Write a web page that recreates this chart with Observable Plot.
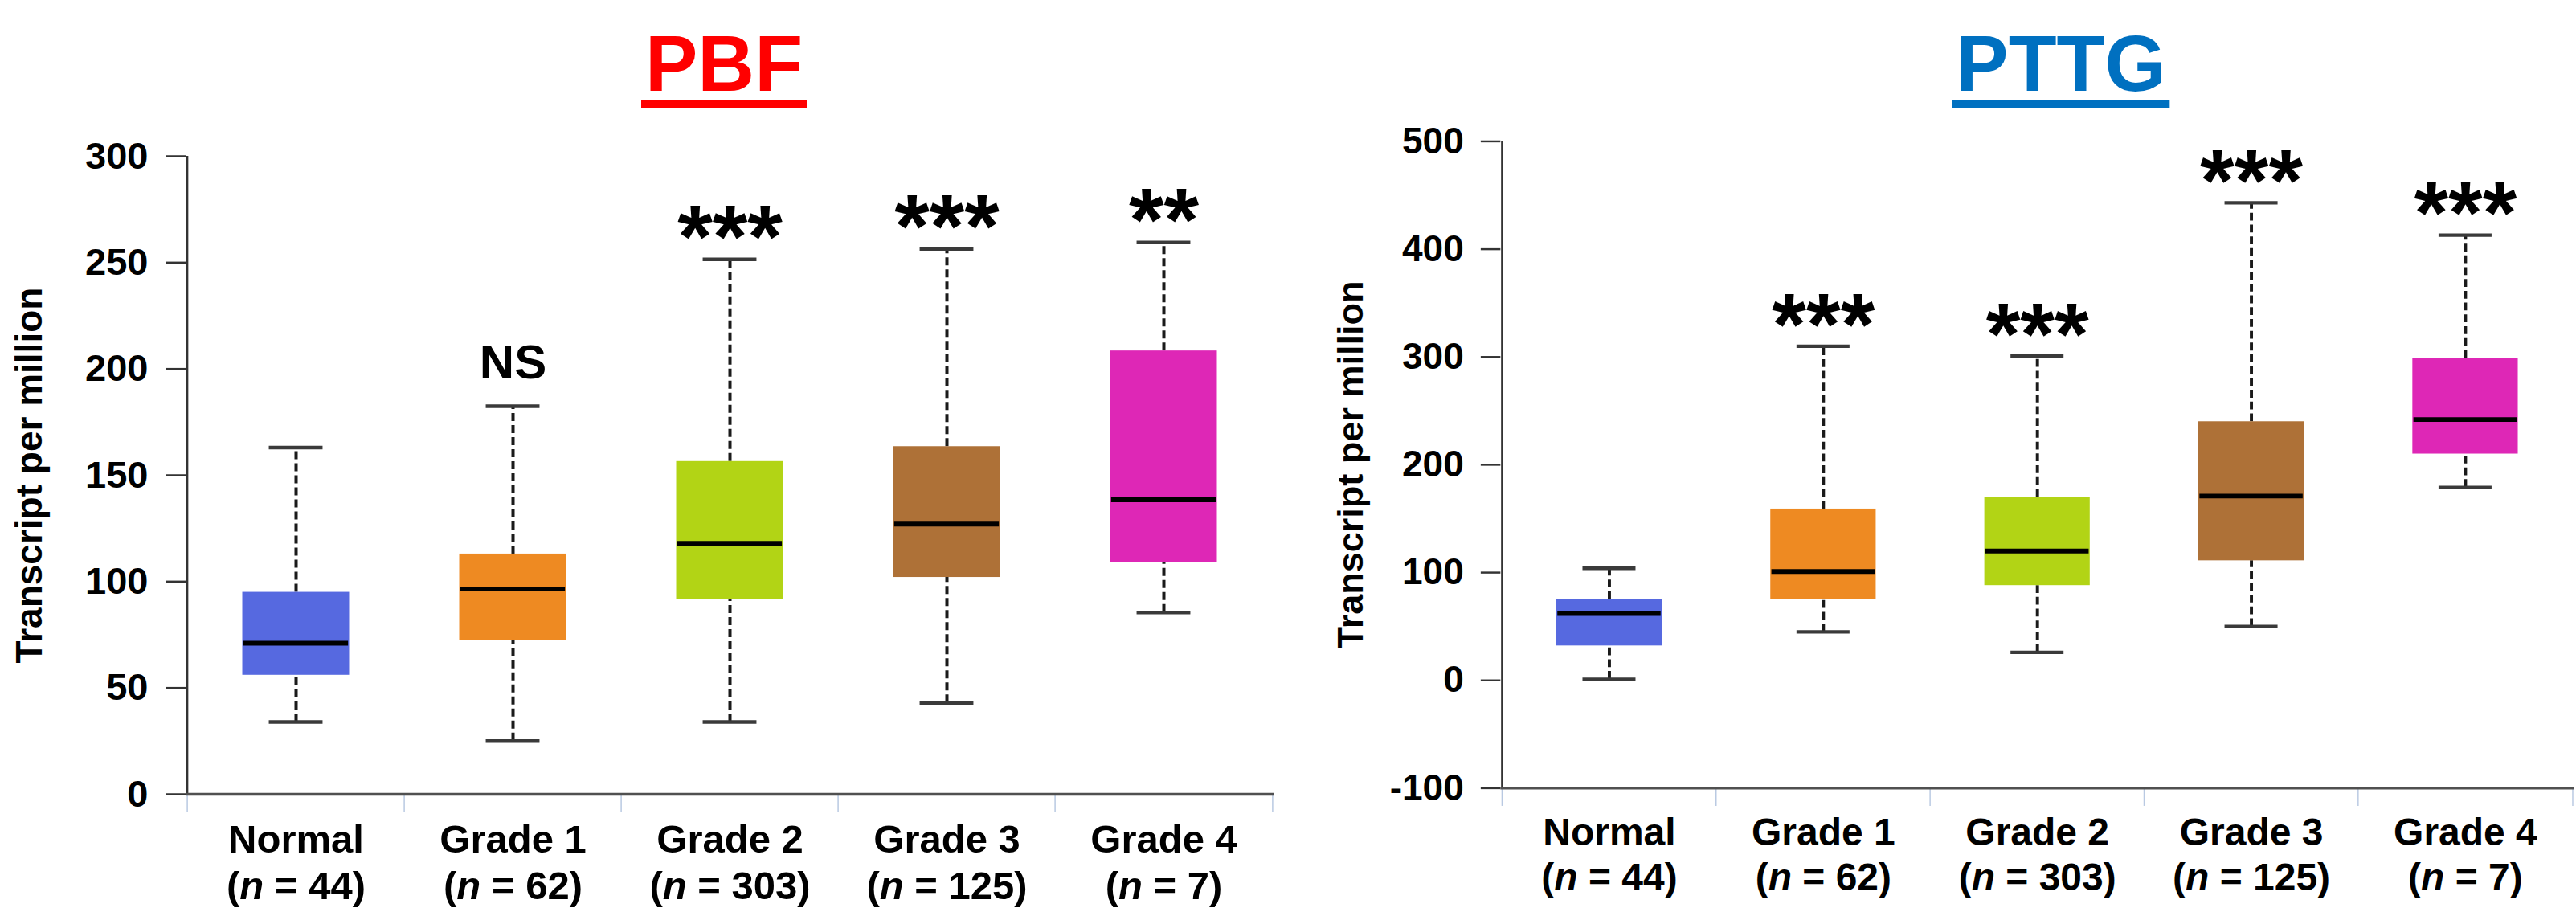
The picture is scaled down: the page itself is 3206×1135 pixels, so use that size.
<!DOCTYPE html>
<html>
<head>
<meta charset="utf-8">
<script src="https://cdn.jsdelivr.net/npm/d3@7"></script>
<script src="https://cdn.jsdelivr.net/npm/@observablehq/plot@0.6"></script>
<style>
  html, body { margin: 0; padding: 0; background: white; }
  body { width: 3206px; height: 1135px; overflow: hidden; position: relative;
         font-family: "Liberation Sans", Arial, Helvetica, sans-serif; }
  .title { position: absolute; top: 34px; transform: translateX(-50%);
           font-size: 98px; font-weight: bold; line-height: 90px; padding: 0 5px; white-space: nowrap; }
  .panel { position: absolute; top: 150px; }
</style>
</head>
<body>
<div class="title" id="t1" style="left:901px;color:#FF0000;border-bottom:11px solid #FF0000;">PBF</div>
<div class="title" id="t2" style="left:2565px;color:#0070C0;border-bottom:11px solid #0070C0;">PTTG</div>
<div class="panel" id="p1" style="left:0px;"></div>
<div class="panel" id="p2" style="left:1600px;"></div>
<script>
// ---- data ----
const categories = ["Normal", "Grade 1", "Grade 2", "Grade 3", "Grade 4"];
const sampleSizes = [44, 62, 303, 125, 7];
const boxColors = ["#5669E0", "#EE8A22", "#B2D415", "#AE7137", "#DE27B6"];

const pbfLow    = [34, 25, 34, 43, 85.5];
const pbfQ1     = [56, 72.5, 91.5, 102, 109];
const pbfMedian = [71, 96.5, 118, 127, 138.5];
const pbfQ3     = [95, 113, 156.5, 163.5, 208.5];
const pbfHigh   = [163, 182.5, 251.5, 256.5, 259.5];
const pbfSig    = ["", "NS", "***", "***", "**"];
const pbfTicks  = [0, 50, 100, 150, 200, 250, 300];

const pttgLow    = [1, 45, 26, 50, 179];
const pttgQ1     = [32, 75, 88, 111, 210];
const pttgMedian = [62, 101, 120, 171, 242];
const pttgQ3     = [75, 159, 170, 240, 299];
const pttgHigh   = [104, 310, 301, 443, 413];
const pttgSig    = ["", "***", "***", "***", "***"];
const pttgTicks  = [-100, 0, 100, 200, 300, 400, 500];

const yLabel = "Transcript per million";
const FONT = "'Liberation Sans', Arial, Helvetica, sans-serif";

function panel(opts) {
  const {low, q1, median, q3, high, sig, ticks, width, height, mt, mb, ml, mr, labelDx} = opts;
  const rows = categories.map((c, i) => ({
    cat: c, lo: low[i], q1: q1[i], med: median[i], q3: q3[i], hi: high[i], sig: sig[i], n: sampleSizes[i]
  }));
  const domain = [ticks[0], ticks[ticks.length - 1]];
  const plotW = width - ml - mr;
  const plotH = height - mt - mb;
  const bw = plotW / categories.length;
  const boxInset = bw * 0.253;
  const capInset = bw * 0.375;
  const medInset = bw * 0.258;
  const whisker = {stroke: "#1a1a1a", strokeWidth: 4, strokeDasharray: "10,5"};
  const cap = {stroke: "#3a3a3a", strokeWidth: 4.5, inset: capInset};
  const boundary = {stroke: "#b9c9e2", strokeWidth: 1.5, insetTop: plotH, insetBottom: -23};
  const svg = Plot.plot({
    width, height, marginTop: mt, marginBottom: mb, marginLeft: ml, marginRight: mr,
    style: {fontFamily: FONT, background: "white", color: "black", overflow: "visible"},
    x: {domain: categories, padding: 0, label: null},
    y: {domain, ticks, label: null},
    color: {domain: categories, range: boxColors},
    marks: [
      Plot.ruleX(rows, {x: "cat", y1: "lo", y2: "q1", ...whisker}),
      Plot.ruleX(rows, {x: "cat", y1: "q3", y2: "hi", ...whisker}),
      Plot.tickY(rows, {x: "cat", y: "lo", ...cap}),
      Plot.tickY(rows, {x: "cat", y: "hi", ...cap}),
      Plot.barY(rows, {x: "cat", y1: "q1", y2: "q3", fill: "cat", insetLeft: boxInset, insetRight: boxInset}),
      Plot.tickY(rows, {x: "cat", y: "med", stroke: "#000", strokeWidth: 6, inset: medInset}),
      Plot.text(rows.filter(d => d.sig.startsWith("*")), {
        x: "cat", y: "hi", text: "sig", fontSize: 112, fontWeight: "bold",
        lineAnchor: "bottom", dy: 10, fill: "black"
      }),
      Plot.text(rows.filter(d => d.sig === "NS"), {
        x: "cat", y: "hi", text: "sig", fontSize: 60, fontWeight: "bold",
        lineAnchor: "bottom", dy: -34, fill: "black"
      }),
      // category boundary ticks below the x axis
      Plot.ruleX(categories, {x: d => d, dx: -bw / 2, ...boundary}),
      Plot.ruleX([categories[categories.length - 1]], {x: d => d, dx: bw / 2, ...boundary}),
      // axis lines
      Plot.ruleX([categories[0]], {x: d => d, dx: -bw / 2, stroke: "#333", strokeWidth: 2.5}),
      Plot.ruleY([domain[0]], {stroke: "#505050", strokeWidth: 3.5}),
      Plot.axisY({
        ticks, tickSize: 25, tickPadding: 22, fontSize: 47, fontWeight: "bold",
        stroke: "#333", strokeWidth: 2.5, tickFormat: d => String(d), label: null
      }),
      Plot.axisX({
        tickSize: 0, tickPadding: 32, fontSize: 49, fontWeight: "bold", lineHeight: 1.17,
        tickFormat: d => d + "\n(n = " + sampleSizes[categories.indexOf(d)] + ")", label: null
      }),
      Plot.text([yLabel], {
        text: d => d, frameAnchor: "left", rotate: -90, dx: labelDx,
        lineAnchor: "bottom", textAnchor: "middle", fontSize: 46, fontWeight: "bold", fill: "black"
      })
    ]
  });
  // italic "n" in the sample-size line
  svg.querySelectorAll("tspan, text").forEach(el => {
    if (el.childNodes.length === 1 && el.childNodes[0].nodeType === 3) {
      const t = el.textContent;
      if (t.startsWith("(n = ")) {
        el.textContent = "(";
        const it = document.createElementNS("http://www.w3.org/2000/svg", "tspan");
        it.setAttribute("font-style", "italic");
        it.textContent = "n";
        el.appendChild(it);
        el.appendChild(document.createTextNode(t.slice(2)));
      }
    }
  });
  return svg;
}

document.getElementById("p1").appendChild(panel({
  low: pbfLow, q1: pbfQ1, median: pbfMedian, q3: pbfQ3, high: pbfHigh, sig: pbfSig, ticks: pbfTicks,
  width: 1600, height: 985, mt: 44, mb: 147, ml: 231, mr: 15, labelDx: -180
}));
document.getElementById("p2").appendChild(panel({
  low: pttgLow, q1: pttgQ1, median: pttgMedian, q3: pttgQ3, high: pttgHigh, sig: pttgSig, ticks: pttgTicks,
  width: 1640, height: 985, mt: 26, mb: 137, ml: 273, mr: 3, labelDx: -175
}));
</script>
</body>
</html>
